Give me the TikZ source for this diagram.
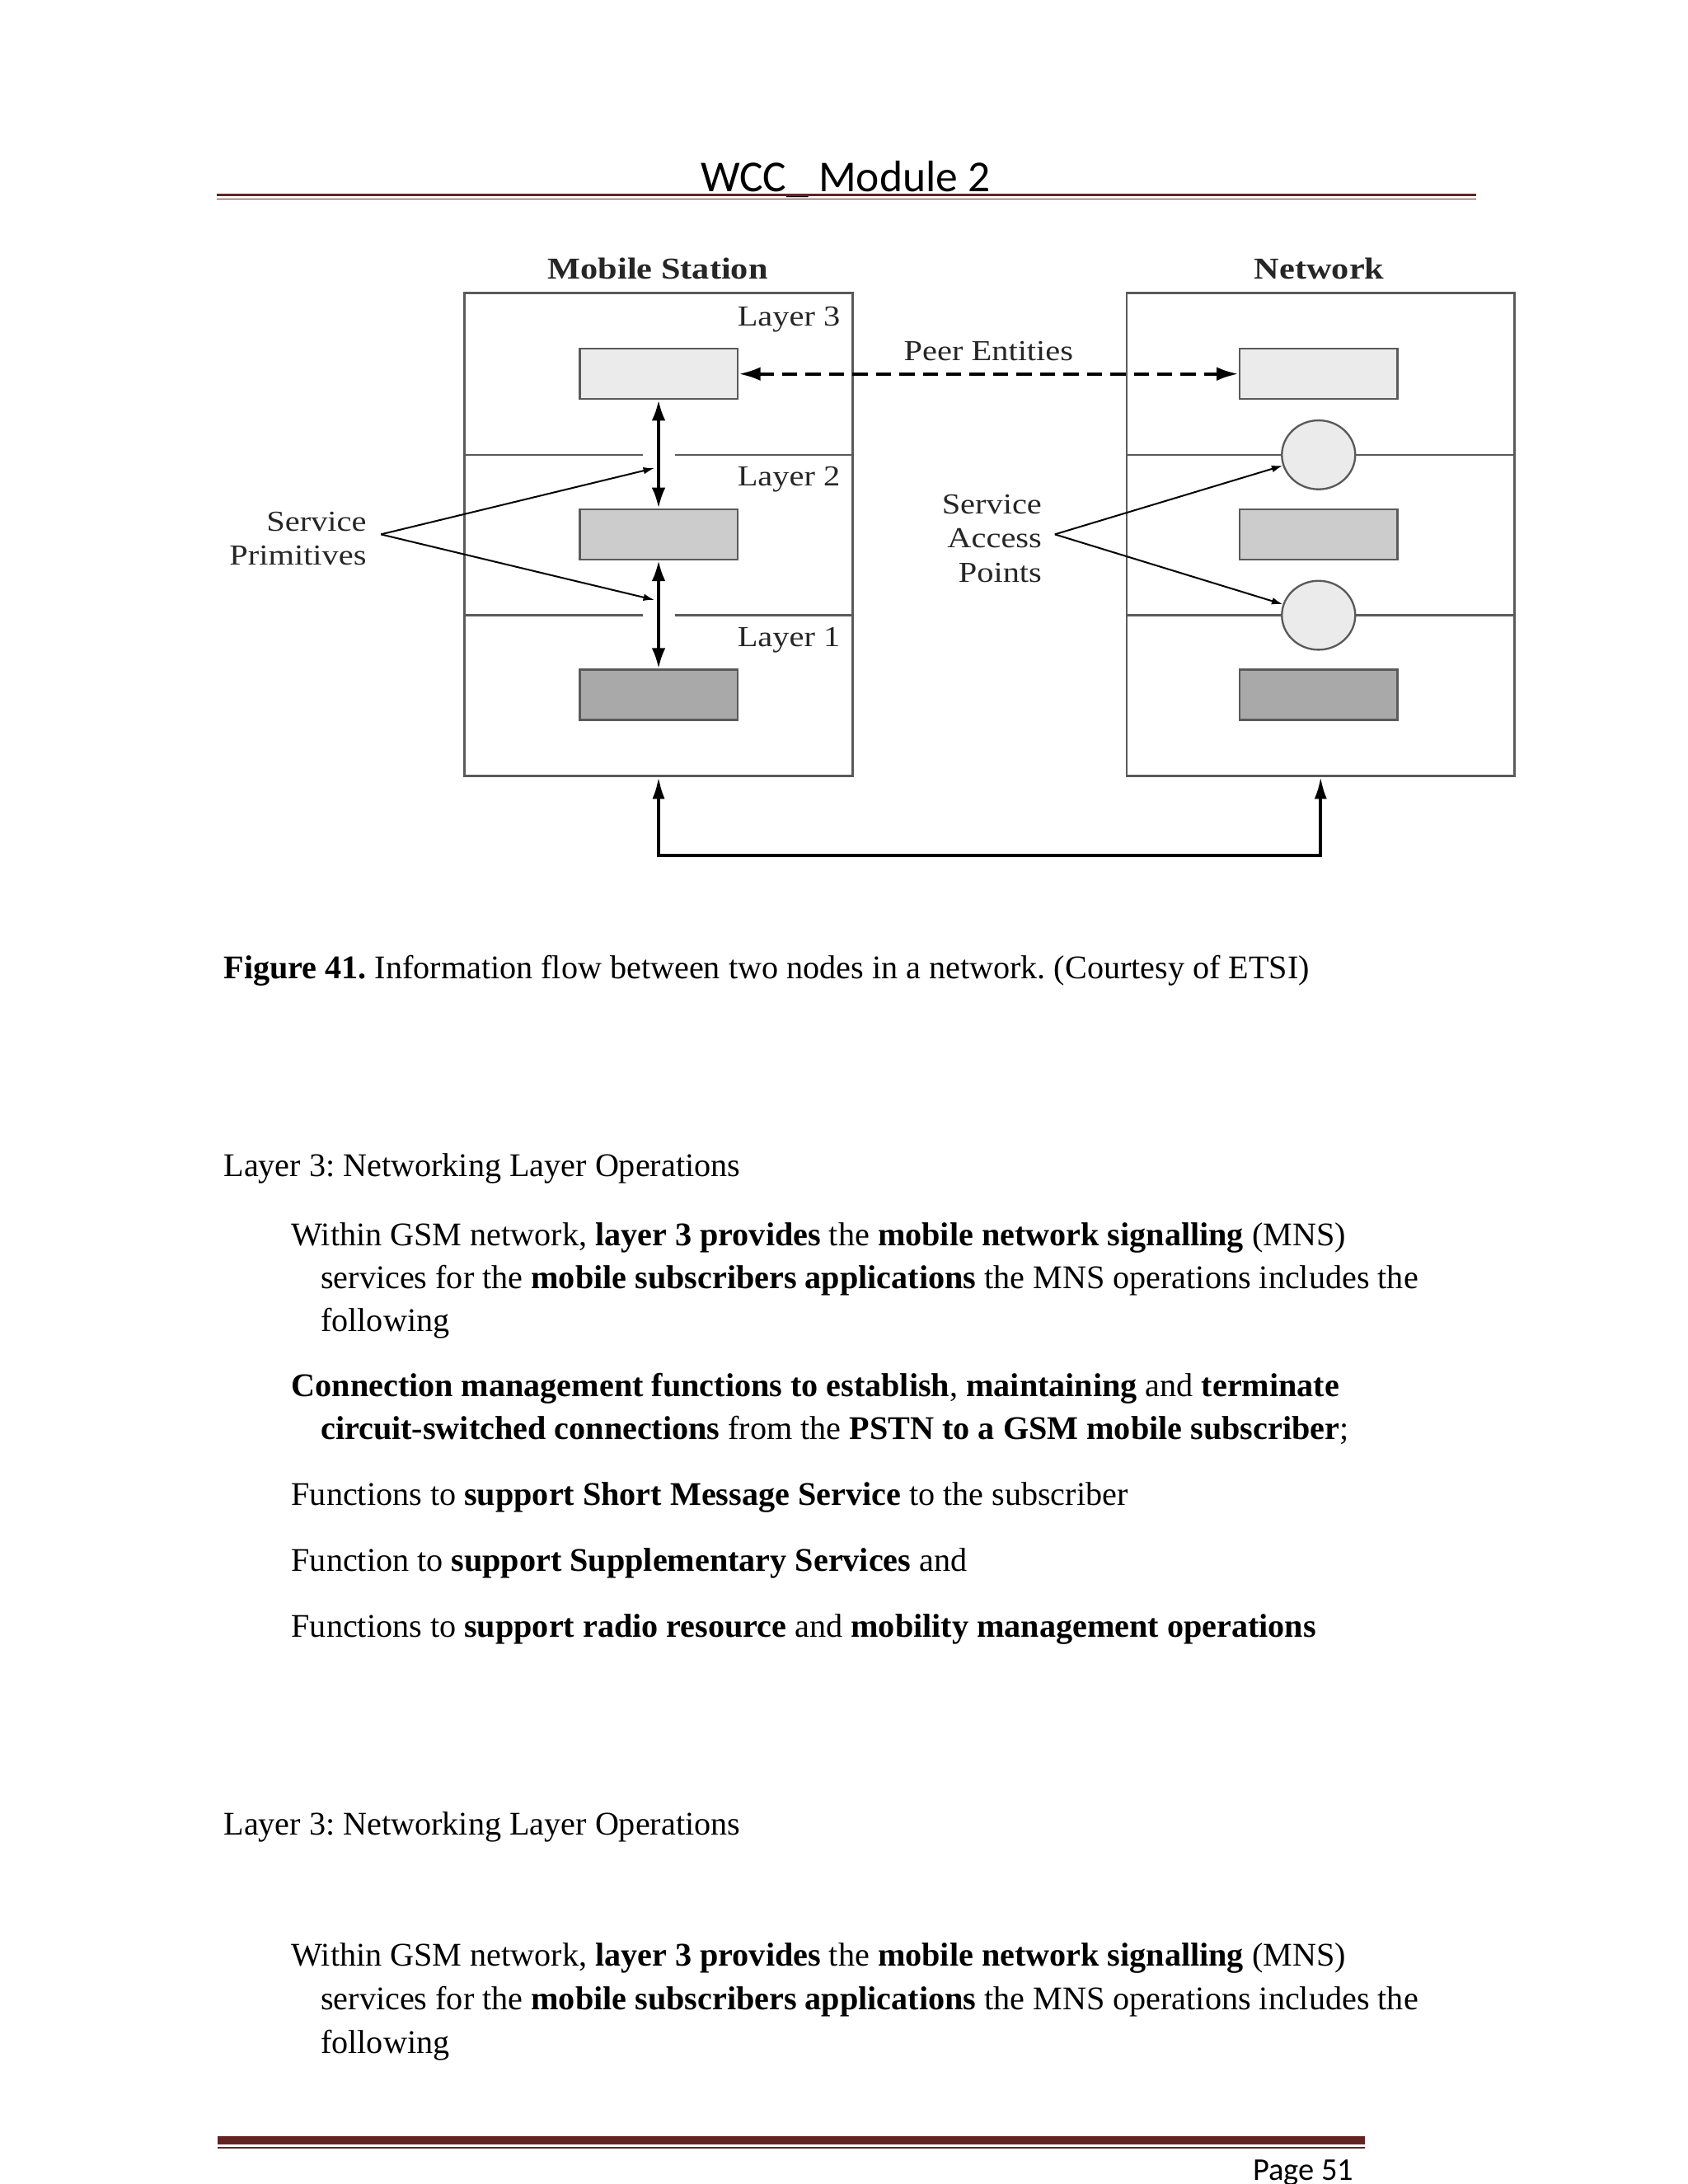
\documentclass[tikz,border=0pt]{standalone}
\usepackage{fontspec}
\setmainfont{Liberation Serif}
\newfontfamily\diagfont[FakeStretch=1.15]{Liberation Serif}
\newfontfamily\hdrfont{Carlito}
\usetikzlibrary{arrows.meta,shapes.geometric}
\definecolor{hdrred}{HTML}{622423}
\definecolor{boxgray}{HTML}{5A5A5A}
\definecolor{fillA}{HTML}{EBEBEB}
\definecolor{fillB}{HTML}{CCCCCC}
\definecolor{fillC}{HTML}{A9A9A9}
\frenchspacing
\begin{document}
\begin{tikzpicture}[x=0.50592pt,y=-0.50592pt,
  stack/.style={draw=boxgray,line width=0.8pt,minimum width=140.6pt,minimum height=175pt,inner sep=0},
  entity/.style={draw=boxgray,line width=0.7pt,minimum width=57.2pt,minimum height=18.2pt,inner sep=0},
  sap/.style={ellipse,draw=boxgray,line width=0.7pt,fill=fillA,minimum width=26.6pt,minimum height=25pt,inner sep=0},
  divider/.style={draw=boxgray,line width=0.7pt},
  lbl/.style={font=\diagfont\fontsize{10.5}{12.3}\selectfont,inner sep=0,text=black!85},
  title/.style={font=\diagfont\bfseries\fontsize{11}{13}\selectfont,inner sep=0,text=black!85},
  dbl/.style={line width=1.2pt,{Latex[length=7.5pt,width=5pt]}-{Latex[length=7.5pt,width=5pt]}},
  peer/.style={line width=1.3pt,dash pattern=on 5.5pt off 3pt,{Latex[length=8pt,width=5pt]}-{Latex[length=8pt,width=5pt]}},
  pointer/.style={line width=0.6pt,-{Latex[length=4pt,width=2.6pt]}},
  link/.style={line width=1.2pt,{Latex[length=8pt,width=4.5pt]}-{Latex[length=8pt,width=4.5pt]}},
  body/.style={anchor=base west,inner sep=0,font=\frenchspacing\fontsize{12}{14}\selectfont},
]
\useasboundingbox (0,0) rectangle (1209.7,1565.4);

% header
\node[anchor=base,inner sep=0,font=\hdrfont\fontsize{16}{19}\selectfont] (hdr) at (606,137.4) {WCC\_ Module 2};
\draw[hdrred,line width=0.8pt] (155.5,139.8) -- (1058,139.8);
\draw[hdrred,line width=0.5pt] (155.5,142.7) -- (1058,142.7);

% stacks
\node[stack] (ms) at (472,383) {};
\node[stack] (net) at (946.5,383) {};
\draw[divider] (333,326) -- (461,326) (484,326) -- (611,326);
\draw[divider] (333,441) -- (461,441) (484,441) -- (611,441);
\draw[divider] (807,326) -- (1086,326);
\draw[divider] (807,441) -- (1086,441);

\node[entity,fill=fillA] (ms3) at (472,268) {};
\node[entity,fill=fillB] (ms2) at (472,383) {};
\node[entity,fill=fillC] (ms1) at (472,498) {};
\node[entity,fill=fillA] (net3) at (945,268) {};
\node[entity,fill=fillB] (net2) at (945,383) {};
\node[entity,fill=fillC] (net1) at (945,498) {};
\node[sap] (sapA) at (945,326) {};
\node[sap] (sapB) at (945,441) {};

% labels
\node[title,anchor=base] (mst) at (471.5,199.7) {Mobile Station};
\node[title,anchor=base] (nett) at (945.5,199.7) {Network};
\node[lbl,anchor=base east] (l3) at (602.5,233.5) {Layer 3};
\node[lbl,anchor=base east] (l2) at (602.5,348) {Layer 2};
\node[lbl,anchor=base east] (l1) at (602.5,463.6) {Layer 1};
\node[lbl,anchor=base] (pe) at (708.5,258.7) {Peer Entities};
\node[lbl,align=right,anchor=east] (sp) at (263,386) {Service\\Primitives};
\node[lbl,align=right,anchor=east] (sa) at (747,386) {Service\\Access\\Points};

% connectors
\draw[dbl] (ms3.south) -- (ms2.north);
\draw[dbl] (ms2.south) -- (ms1.north);
\draw[peer] (ms3.east) -- (net3.west);
\coordinate (spx) at (273,383);
\coordinate (spu) at (469,335.5);
\coordinate (spl) at (469,430);
\draw[pointer] (spx) -- (spu);
\draw[pointer] (spx) -- (spl);
\coordinate (sax) at (756,383);
\draw[pointer] (sax) -- (sapA);
\draw[pointer] (sax) -- (sapB);
\coordinate (bl) at (472,613);
\draw[link] (ms.south) -- (bl) -| (net.south);

% caption and body
\node[body] (cap) at (160,701.7) {\textbf{Figure 41.} Information flow between two nodes in a network. (Courtesy of ETSI)};
\node[body] (h1) at (160,843.5) {Layer 3: Networking Layer Operations};
\node[body] (p1a) at (208.5,893) {Within GSM network, \textbf{layer 3 provides} the \textbf{mobile network signalling} (MNS)};
\node[body] (p1b) at (229.5,923.5) {services for the \textbf{mobile subscribers applications} the MNS operations includes the};
\node[body] (p1c) at (229.5,954) {following};
\node[body] (p2a) at (208.5,1001) {\textbf{Connection management functions to establish}, \textbf{maintaining} and \textbf{terminate}};
\node[body] (p2b) at (229.5,1031.7) {\textbf{circuit-switched connections} from the \textbf{PSTN to a GSM mobile subscriber};};
\node[body] (p3) at (208.5,1079) {Functions to \textbf{support Short Message Service} to the subscriber};
\node[body] (p4) at (208.5,1126) {Function to \textbf{support Supplementary Services} and};
\node[body] (p5) at (208.5,1173.5) {Functions to \textbf{support radio resource} and \textbf{mobility management operations}};
\node[body] (h2) at (160,1315) {Layer 3: Networking Layer Operations};
\node[body] (q1a) at (208.5,1409.4) {Within GSM network, \textbf{layer 3 provides} the \textbf{mobile network signalling} (MNS)};
\node[body] (q1b) at (229.5,1440.4) {services for the \textbf{mobile subscribers applications} the MNS operations includes the};
\node[body] (q1c) at (229.5,1471.5) {following};

% footer
\draw[hdrred,line width=3pt] (156,1534) -- (978,1534);
\draw[hdrred,line width=0.6pt] (156,1539.2) -- (978,1539.2);
\node[anchor=base east,inner sep=0,font=\hdrfont\fontsize{11.5}{13}\selectfont] (pg) at (970.5,1562.7) {Page 51};
\end{tikzpicture}
\end{document}
